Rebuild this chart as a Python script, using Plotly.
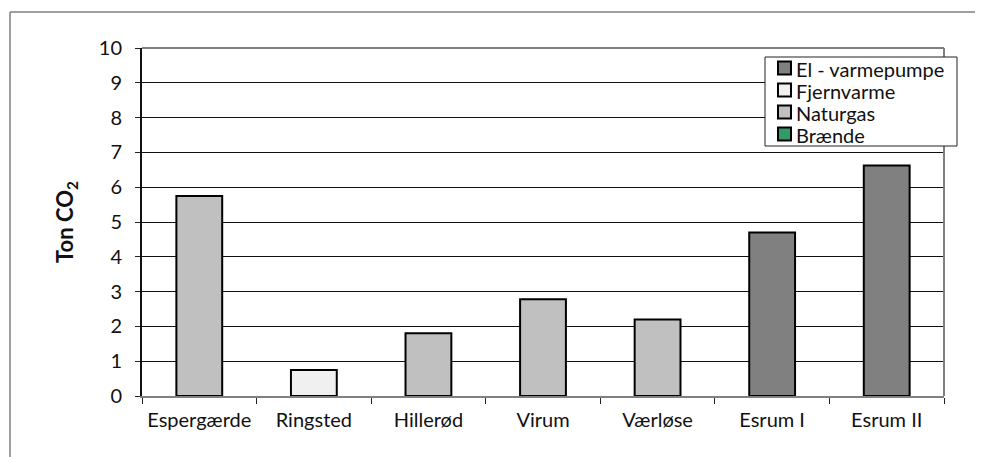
import plotly.graph_objects as go

categories = ["Espergærde", "Ringsted", "Hillerød", "Virum", "Værløse", "Esrum I", "Esrum II"]
values = [5.75, 0.75, 1.8, 2.78, 2.2, 4.7, 6.62]
fuel = ["Naturgas", "Fjernvarme", "Naturgas", "Naturgas", "Naturgas", "El - varmepumpe", "El - varmepumpe"]
series_names = ["El - varmepumpe", "Fjernvarme", "Naturgas", "Brænde"]
series_colors = ["#808080", "#F0F0F0", "#C0C0C0", "#339966"]
y_ticks = [0, 1, 2, 3, 4, 5, 6, 7, 8, 9, 10]

FONT = "Lato"
OFF = 8  # page body margin
W, H = 983 - OFF, 457 - OFF
ML, MT = 142 - OFF, 48 - OFF
MR = W - (944 - OFF)
MB = H - (396 - OFF)
PW, PH = W - ML - MR, H - MT - MB


def px(x):
    return (x - OFF - ML) / PW


def py(y):
    return (H - MB - (y - OFF)) / PH


fig = go.Figure()
for name, color in zip(series_names, series_colors):
    ys = [v if f == name else None for v, f in zip(values, fuel)]
    fig.add_trace(go.Bar(
        x=categories, y=ys, name=name,
        marker=dict(color=color, line=dict(color="black", width=2)),
        width=0.4, showlegend=False,
    ))

shapes = [
    dict(type="line", xref="paper", yref="paper", x0=0, x1=1, y0=1, y1=1,
         line=dict(color="#808080", width=2)),
    dict(type="line", xref="paper", yref="paper", x0=1, x1=1, y0=0, y1=1,
         line=dict(color="#808080", width=2)),
    dict(type="line", xref="paper", yref="paper", x0=px(10), x1=px(990), y0=py(12), y1=py(12),
         line=dict(color="#808080", width=1.5)),
    dict(type="line", xref="paper", yref="paper", x0=px(10), x1=px(10), y0=py(470), y1=py(12),
         line=dict(color="#808080", width=1.5)),
    # legend box
    dict(type="rect", xref="paper", yref="paper", x0=px(765), x1=px(957), y0=py(146), y1=py(57),
         fillcolor="white", line=dict(color="#222", width=1), layer="above"),
]
annotations = []
for i, (name, color) in enumerate(zip(series_names, series_colors)):
    cy = 68 + 22 * i
    shapes.append(dict(type="rect", xref="paper", yref="paper",
                       x0=px(778), x1=px(791), y0=py(cy + 6.5), y1=py(cy - 6.5),
                       fillcolor=color, line=dict(color="black", width=2), layer="above"))
    annotations.append(dict(text=name, xref="paper", yref="paper", x=px(794), y=py(cy + 1),
                            xanchor="left", yanchor="middle", showarrow=False,
                            font=dict(family=FONT, size=20, color="#111")))

fig.update_layout(
    width=W, height=H,
    barmode="relative",
    paper_bgcolor="white", plot_bgcolor="white",
    margin=dict(l=ML, r=MR, t=MT, b=MB),
    font=dict(family=FONT, size=20, color="#111"),
    showlegend=False,
    xaxis=dict(
        showline=True, linecolor="#808080", linewidth=2,
        ticks="outside", tickson="boundaries", ticklen=6, tickcolor="#222",
        ticklabelstandoff=5,
        tickfont=dict(family=FONT, size=20),
        mirror=False,
    ),
    yaxis=dict(
        range=[0, 10], tickvals=y_ticks,
        showgrid=True, gridcolor="#111", gridwidth=1,
        showline=True, linecolor="#111", linewidth=2,
        ticks="outside", ticklen=5, tickcolor="#222",
        ticklabelstandoff=9,
        tickfont=dict(family=FONT, size=20),
        title=dict(text="<b>Ton CO<sub>2</sub></b>", font=dict(family=FONT, size=22), standoff=19),
    ),
    shapes=shapes,
    annotations=annotations,
)

fig.write_html("out.html")
